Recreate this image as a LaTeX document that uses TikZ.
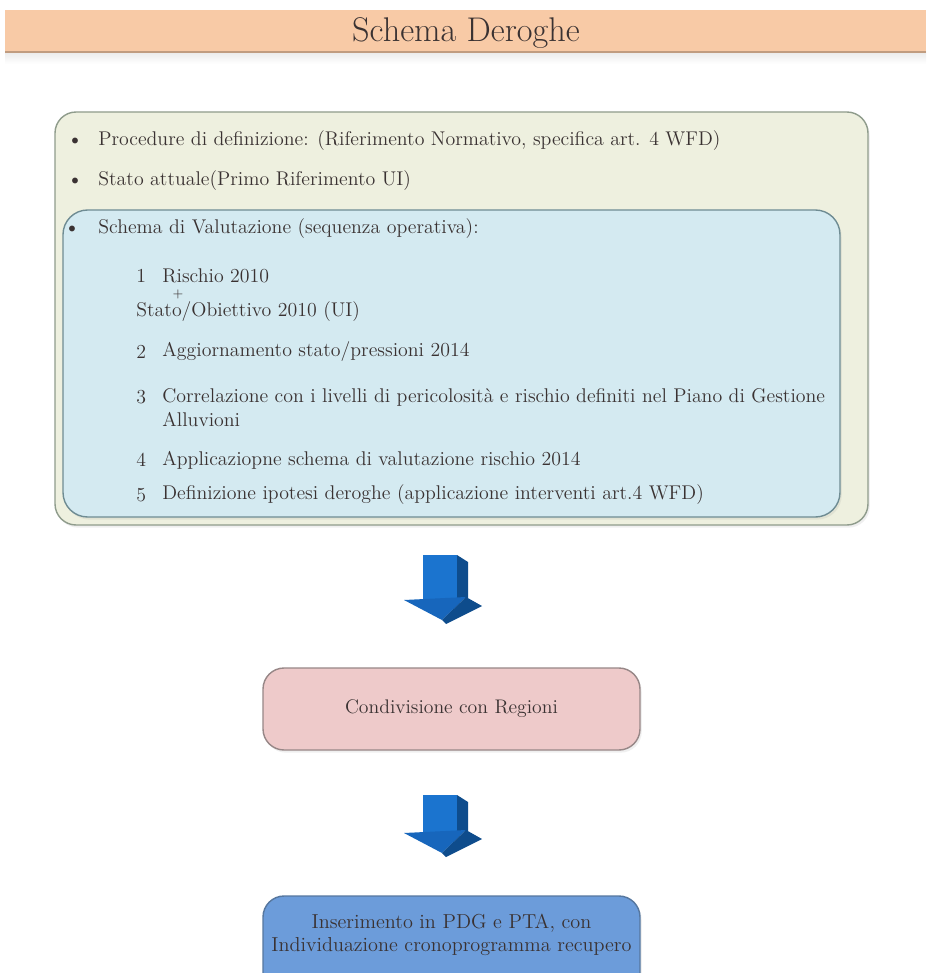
\documentclass[tikz,border=0pt]{standalone}
\usepackage{tikz}
\usetikzlibrary{calc,positioning,shadows}

\definecolor{titlepeach}{HTML}{F8CAA6}
\definecolor{titleedge}{HTML}{C09C80}
\definecolor{outerfill}{HTML}{EEF0DF}
\definecolor{outeredge}{HTML}{8F9C8C}
\definecolor{innerfill}{HTML}{D4EAF1}
\definecolor{inneredge}{HTML}{6F8C93}
\definecolor{pinkfill}{HTML}{EECACA}
\definecolor{pinkedge}{HTML}{978787}
\definecolor{bluefill}{HTML}{6C9CDA}
\definecolor{blueedge}{HTML}{56779F}
\definecolor{textgray}{HTML}{3A3232}
\definecolor{arrowfront}{HTML}{1B74CF}
\definecolor{arrowhead}{HTML}{1766BC}
\definecolor{arrowside}{HTML}{0E4C8C}

\tikzset{
  panel/.style 2 args={draw=#2, fill=#1, line width=0.8pt, rounded corners=12pt,
    inner sep=0pt, drop shadow={opacity=0.12, shadow xshift=1pt, shadow yshift=-1.5pt}},
  txt/.style={anchor=west, inner sep=0pt, text=textgray, font=\fontsize{11.3}{13.5}\selectfont},
  dot/.style={inner sep=0pt, text=textgray, font=\fontsize{8}{9}\selectfont},
  downarrow/.pic={
    \fill[arrowfront] (-17,0) rectangle (17,#1+1);
    \fill[arrowside] (17,0) -- (28,7) -- (28,#1) -- (17,#1+1) -- cycle;
    \fill[arrowhead] (-36,#1+2) -- (26,#1-1) -- (2,#1+22) -- cycle;
    \fill[arrowside] (26,#1-1) -- (42,#1+8) -- (6,#1+26) -- (2,#1+22) -- cycle;
  }
}

\begin{document}
\begin{tikzpicture}[x=0.02cm,y=-0.02cm]
\clip (0,0) rectangle (926,973);
\fill[white] (0,0) rectangle (926,973);

% title bar
\fill[titlepeach] (5,10) rectangle (926,52);
\shade[top color=black!8, bottom color=white] (5,52) rectangle (926,64);
\draw[titleedge, line width=0.6pt] (5,52) -- (926,52);
\node[inner sep=0pt, text=textgray, font=\fontsize{19.5}{23}\selectfont] (title) at (466,33) {Schema Deroghe};

% outer and inner panels
\node[panel={outerfill}{outeredge}, minimum width=813*0.02cm, minimum height=413*0.02cm] (outer) at (461.5,318.5) {};
\node[panel={innerfill}{inneredge}, minimum width=777*0.02cm, minimum height=307*0.02cm, rounded corners=14pt] (inner) at (451.5,363.5) {};

\node[dot] (b1) at (75,141) {$\bullet$};
\node[txt] (l1) at (98,141) {Procedure di definizione: (Riferimento Normativo, specifica art. 4 WFD)};
\node[dot] (b2) at (75,181) {$\bullet$};
\node[txt] (l2) at (98,181) {Stato attuale(Primo Riferimento UI)};
\node[dot] (b3) at (72,229) {$\bullet$};
\node[txt] (l3) at (98,229) {Schema di Valutazione (sequenza operativa):};

\node[txt] (n1) at (136,276) {1};
\node[txt] (s1) at (162,276) {Rischio 2010};
\node[inner sep=0pt, text=textgray, font=\fontsize{7}{8}\selectfont] (plus) at (178,294) {+};
\node[txt] (s1b) at (136,312) {Stato/Obiettivo 2010 (UI)};
\node[txt] (n2) at (136,352) {2};
\node[txt] (s2) at (162,352) {Aggiornamento stato/pressioni 2014};
\node[txt] (n3) at (136,397) {3};
\node[txt] (s3) at (162,397) {Correlazione con i livelli di pericolosità e rischio definiti nel Piano di Gestione};
\node[txt] (s3b) at (162,420) {Alluvioni};
\node[txt] (n4) at (136,460) {4};
\node[txt] (s4) at (162,460) {Applicaziopne schema di valutazione rischio 2014};
\node[txt] (n5) at (136,495) {5};
\node[txt] (s5) at (162,495) {Definizione ipotesi deroghe (applicazione interventi art.4 WFD)};

% lower boxes
\node[panel={pinkfill}{pinkedge}, minimum width=377*0.02cm, minimum height=82*0.02cm, text=textgray,
  font=\fontsize{11.2}{13.4}\selectfont] (share) at (451.5,709) {Condivisione con Regioni};
\node[panel={bluefill}{blueedge}, minimum width=377*0.02cm, minimum height=100*0.02cm, text=textgray,
  font=\fontsize{11.5}{13}\selectfont, align=center, text depth=0pt] (insert) at (451.5,946)
  {Inserimento in PDG e PTA, con\\Individuazione cronoprogramma recupero\\[2pt]};

% arrows
\pic at (440,555) {downarrow=43};
\pic at (440,795) {downarrow=36};
\end{tikzpicture}
\end{document}
